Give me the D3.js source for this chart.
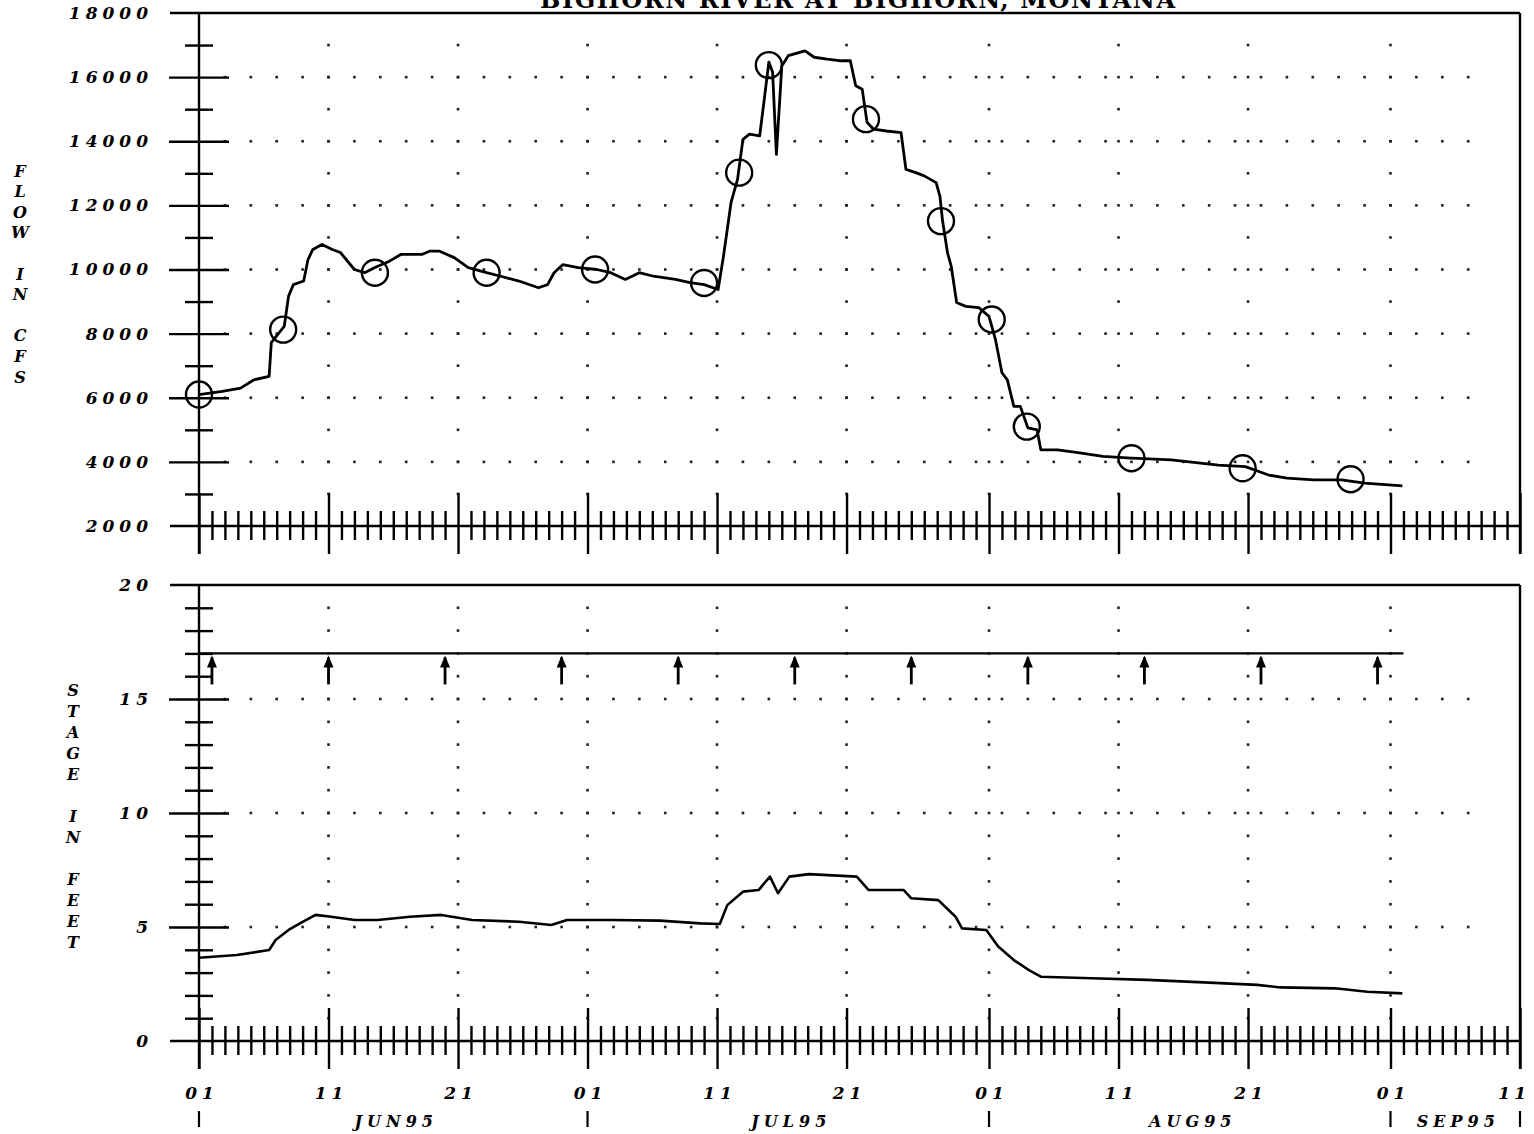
<!DOCTYPE html>
<html>
<head>
<meta charset="utf-8">
<script src="https://cdn.jsdelivr.net/npm/d3@7"></script>
<style>
body { margin: 0; background: #fff; }
svg { display: block; }
text { font-family: "DejaVu Serif", serif; font-weight: bold; font-style: italic; fill: #000; }
</style>
</head>
<body>
<div id="chart"></div>
<script>
// days counted from 01 Jun 1995
var flowDay = [0, 1.8, 3.2, 4.25, 5.4, 5.6, 6.6, 6.9, 7.3, 8.1, 8.4, 8.8, 9.5, 10.3, 10.9, 12.0, 12.8, 13.6, 14.7, 15.6,
  17.2, 17.8, 18.6, 19.7, 20.8, 22.2, 23.3, 24.7, 26.2, 26.9, 27.4, 28.1, 29.3, 30.7, 31.8, 32.9, 34.0, 35.1, 36.8, 37.9,
  39.0, 40.1, 40.5, 41.1, 41.6, 42.0, 42.5, 43.3, 43.6, 44.0, 44.3, 44.6, 45.0, 45.5, 46.8, 47.5, 48.5, 49.6, 50.3, 50.7,
  51.2, 51.6, 52.1, 53.1, 54.2, 54.6, 55.3, 56.0, 56.9, 57.2, 57.4, 57.8, 58.1, 58.5, 59.2, 60.2, 61.0, 61.5, 62.0, 62.4,
  62.9, 63.4, 64.0, 64.7, 65.0, 66.3, 68.0, 69.8, 72.0, 75.1, 78.7, 80.8, 82.6, 84.0, 86.1, 88.2, 90.0, 92.9];
var flowCfs = [6100, 6200, 6300, 6560, 6670, 7720, 8230, 9170, 9530, 9640, 10310, 10625, 10780, 10625, 10530, 10000, 9900, 10060, 10260, 10470,
  10470, 10570, 10570, 10370, 10060, 9900, 9790, 9640, 9430, 9530, 9900, 10150, 10060, 10000, 9900, 9690, 9900, 9790, 9690, 9590,
  9530, 9375, 10420, 12090, 12810, 14060, 14220, 14170, 15100, 16470, 16150, 13590, 16350, 16670, 16820, 16620, 16560, 16510, 16510, 15730,
  15625, 14590, 14375, 14320, 14270, 13125, 13030, 12920, 12710, 12290, 11510, 10530, 10100, 8970, 8850, 8810, 8540, 7810, 6780, 6560,
  5730, 5730, 5060, 5000, 4375, 4375, 4280, 4170, 4120, 4060, 3900, 3850, 3590, 3490, 3440, 3440, 3340, 3250];

// discharge measurements (circles)
var measDay = [0, 6.5, 13.6, 22.2, 30.6, 39.0, 41.7, 44.0, 51.5, 57.3, 61.2, 63.9, 72.0, 80.6, 88.9];
var measCfs = [6100, 8125, 9900, 9900, 10000, 9580, 13020, 16375, 14690, 11510, 8440, 5100, 4115, 3800, 3460];

var stageDay = [0, 2.9, 5.4, 5.9, 6.9, 7.8, 9.0, 10.2, 12.0, 13.8, 16.3, 18.7, 21.1, 24.7, 27.2, 28.4, 32.0, 35.6, 38.7, 40.2,
  40.8, 42.0, 43.2, 44.1, 44.7, 45.6, 47.1, 50.8, 51.7, 54.4, 55.0, 57.1, 58.4, 58.9, 60.8, 61.7, 62.9, 64.1, 65.0, 68.9,
  73.2, 78.0, 81.7, 83.5, 87.7, 90.2, 92.9];
var stageFt = [3.65, 3.77, 3.99, 4.43, 4.87, 5.16, 5.53, 5.45, 5.31, 5.31, 5.45, 5.53, 5.31, 5.23, 5.09, 5.31, 5.31, 5.28, 5.16, 5.13,
  5.96, 6.55, 6.62, 7.21, 6.48, 7.21, 7.32, 7.21, 6.62, 6.62, 6.26, 6.18, 5.45, 4.94, 4.87, 4.14, 3.55, 3.11, 2.82, 2.75,
  2.68, 2.56, 2.46, 2.35, 2.31, 2.16, 2.09];

// gage visits (arrows) and reference line
var visitDay = [1, 10, 19, 28, 37, 46, 55, 64, 73, 82, 91];
var refStage = 17;
var refEndDay = 93;

var flowTicks = [2000, 4000, 6000, 8000, 10000, 12000, 14000, 16000, 18000];
var stageTicks = [0, 5, 10, 15, 20];
var labelDays = [1, 11, 21];
var monthNames = ["JUN95", "JUL95", "AUG95", "SEP95"];
var title = "BIGHORN RIVER AT BIGHORN, MONTANA";
var flowTitle = "FLOW IN CFS";
var stageTitle = "STAGE IN FEET";

var t0 = new Date(1995, 5, 1), t1 = new Date(1995, 8, 11);
function toDate(d) { return d3.timeHour.offset(t0, Math.round(d * 24)); }

var svg = d3.select("#chart").append("svg").attr("width", 1534).attr("height", 1134);

var x = d3.scaleTime().domain([t0, t1]).range([199, 1520]);
var yF = d3.scaleLinear().domain([2000, 18000]).range([526, 13]);
var yS = d3.scaleLinear().domain([0, 20]).range([1041, 585]);

var allDays = d3.timeDay.range(t0, d3.timeDay.offset(t1, 1));
function isMajor(d) { return labelDays.indexOf(d.getDate()) >= 0; }
var gridDays = allDays.filter(function (d) { return isMajor(d) && +d != +t0 && +d != +t1; });
var rowDays = d3.range(2, 99, 2).map(toDate);

var x0 = 170, x1 = x(t1);

// title, cut at the top of the sheet as in the scan
svg.append("text").attr("x", 540).attr("y", 8).attr("textLength", 635).attr("lengthAdjust", "spacing")
  .style("font-size", "24px").style("font-style", "normal").text(title);

// grid dots
function dots(yScale, vals, rows) {
  var g = svg.append("g").attr("fill", "#222");
  gridDays.forEach(function (d) {
    vals.forEach(function (v) {
      g.append("rect").attr("x", x(d) - 1.3).attr("y", yScale(v) - 1.3).attr("width", 2.6).attr("height", 2.6);
    });
  });
  rows.forEach(function (v) {
    rowDays.forEach(function (d) {
      g.append("rect").attr("x", x(d) - 1.3).attr("y", yScale(v) - 1.3).attr("width", 2.6).attr("height", 2.6);
    });
  });
}
dots(yF, d3.range(3000, 17001, 1000), [4000, 6000, 8000, 10000, 12000, 14000, 16000]);
dots(yS, d3.range(1, 20, 1), [5, 10, 15]);

// frame lines, day ticks, value ticks
function panel(yScale, yTop, yBot, tickVals, majorStep, labels, fmt) {
  var g = svg.append("g").attr("stroke", "#000").attr("stroke-width", 2.4);
  g.append("line").attr("x1", x0).attr("x2", x1).attr("y1", yTop).attr("y2", yTop);
  g.append("line").attr("x1", x0).attr("x2", x1).attr("y1", yBot).attr("y2", yBot);
  g.append("line").attr("x1", x(t0)).attr("x2", x(t0)).attr("y1", yTop).attr("y2", yBot + 28);
  g.append("line").attr("x1", x1).attr("x2", x1).attr("y1", yTop).attr("y2", yBot + 28);

  var ax = svg.append("g").attr("transform", "translate(0," + yBot + ")")
    .call(d3.axisBottom(x).tickValues(allDays).tickSize(0).tickFormat(""));
  ax.select(".domain").remove();
  ax.selectAll(".tick line").attr("stroke", "#000").attr("stroke-width", 2.4)
    .attr("y1", function (d) { return isMajor(d) ? -33 : -15; })
    .attr("y2", function (d) { return isMajor(d) ? 28 : 14; });

  var ay = svg.append("g").attr("transform", "translate(" + x(t0) + ",0)")
    .call(d3.axisLeft(yScale).tickValues(tickVals).tickSize(0).tickFormat(""));
  ay.select(".domain").remove();
  ay.selectAll(".tick line").attr("stroke", "#000").attr("stroke-width", 2.4)
    .attr("x1", function (v) { return Math.abs(v % majorStep) < 1e-9 ? -30 : -14; })
    .attr("x2", function (v) { return Math.abs(v % majorStep) < 1e-9 ? 30 : 14; });

  var al = svg.append("g").attr("transform", "translate(" + x(t0) + ",0)")
    .call(d3.axisLeft(yScale).tickValues(labels).tickSize(0).tickPadding(46).tickFormat(fmt));
  al.select(".domain").remove();
  al.selectAll("text").attr("font-family", null).attr("fill", null)
    .style("font-size", "17px").style("letter-spacing", "5px");
}
panel(yF, yF(18000), yF(2000), d3.range(3000, 17001, 1000), 2000, flowTicks, d3.format("d"));
panel(yS, yS(20), yS(0), d3.range(1, 20, 1), 5, stageTicks, d3.format("d"));

// stacked axis titles
function stacked(str, cx, top, step) {
  svg.append("g").selectAll("text").data(str.split("")).enter().append("text")
    .attr("x", cx).attr("y", function (c, i) { return top + i * step; })
    .attr("dy", "0.35em").attr("text-anchor", "middle")
    .style("font-size", "16px").text(function (c) { return c; });
}
stacked(flowTitle, 20, 171, 20.6);
stacked(stageTitle, 73, 690, 21);

// date labels (last one kept inside the sheet)
svg.append("g").selectAll("text").data(allDays.filter(isMajor)).enter().append("text")
  .attr("x", function (d) { return +d == +t1 ? 1530 : x(d) + 3; }).attr("y", 1099)
  .attr("text-anchor", function (d) { return +d == +t1 ? "end" : "middle"; })
  .style("font-size", "17px").style("letter-spacing", function (d) { return +d == +t1 ? "4px" : "5px"; })
  .text(d3.timeFormat("%d"));

var monthStarts = d3.timeMonth.range(t0, t1);
svg.append("g").selectAll("line").data(monthStarts.concat([t1])).enter().append("line")
  .attr("x1", function (d) { return x(d); }).attr("x2", function (d) { return x(d); })
  .attr("y1", 1111).attr("y2", 1127).attr("stroke", "#000").attr("stroke-width", 2.2);
svg.append("g").selectAll("text").data(monthStarts).enter().append("text")
  .attr("x", function (d, i) {
    var a = x(d), b = x(d3.min([d3.timeMonth.offset(d, 1), t1]));
    return (a + b) / 2 + 3;
  })
  .attr("y", 1127).attr("text-anchor", "middle")
  .style("font-size", "16px").style("letter-spacing", "5px")
  .text(function (d, i) { return monthNames[i]; });

// flow hydrograph
var flowPts = flowDay.map(function (d, i) { return [toDate(d), flowCfs[i]]; });
svg.append("path").datum(flowPts)
  .attr("fill", "none").attr("stroke", "#000").attr("stroke-width", 2.8).attr("stroke-linejoin", "round")
  .attr("d", d3.line().x(function (p) { return x(p[0]); }).y(function (p) { return yF(p[1]); }));

svg.append("g").selectAll("circle").data(measDay).enter().append("circle")
  .attr("cx", function (d) { return x(toDate(d)); })
  .attr("cy", function (d, i) { return yF(measCfs[i]); })
  .attr("r", 13).attr("fill", "none").attr("stroke", "#000").attr("stroke-width", 2.4);

// stage hydrograph
var stagePts = stageDay.map(function (d, i) { return [toDate(d), stageFt[i]]; });
svg.append("path").datum(stagePts)
  .attr("fill", "none").attr("stroke", "#000").attr("stroke-width", 2.6).attr("stroke-linejoin", "round")
  .attr("d", d3.line().x(function (p) { return x(p[0]); }).y(function (p) { return yS(p[1]); }));

// reference line and visit arrows
svg.append("line").attr("x1", x(t0)).attr("x2", x(toDate(refEndDay)))
  .attr("y1", yS(refStage)).attr("y2", yS(refStage)).attr("stroke", "#000").attr("stroke-width", 2.4);
var arr = svg.append("g").selectAll("g").data(visitDay).enter().append("g")
  .attr("transform", function (d) { return "translate(" + x(toDate(d)) + "," + yS(refStage) + ")"; });
arr.append("line").attr("y1", 4).attr("y2", 31).attr("stroke", "#000").attr("stroke-width", 2.8);
arr.append("path").attr("d", "M0,2L5,14L-5,14Z").attr("fill", "#000");
</script>
</body>
</html>
